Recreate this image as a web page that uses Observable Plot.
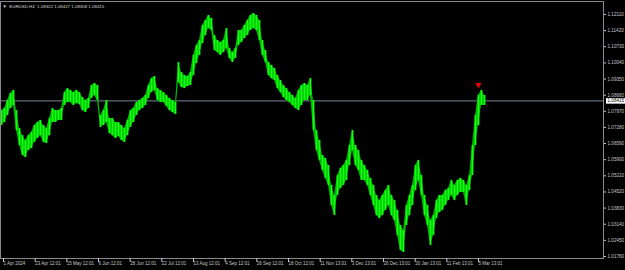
<!DOCTYPE html>
<html>
<head>
<meta charset="utf-8">
<script src="https://cdn.jsdelivr.net/npm/d3@7"></script>
<script src="https://cdn.jsdelivr.net/npm/@observablehq/plot@0.6"></script>
<style>
  html, body { margin: 0; padding: 0; background: #000; overflow: hidden; }
  #chart svg { display: block; }
</style>
</head>
<body>
<div id="chart"></div>
<script>
// ---- data (EURUSD, H4; sampled columns of the price band) ----
const symbolName = "EURUSD,H4";
const lastBar = { open: 1.08322, high: 1.08427, low: 1.08308, close: 1.08415 };

const highs = [
  1.0800,1.0809,1.0843,1.0873,1.0886,1.0800,1.0723,1.0693,1.0672,1.0693,
  1.0706,1.0736,1.0749,1.0758,1.0736,1.0723,1.0766,1.0809,1.0800,1.0800,
  1.0809,1.0877,1.0894,1.0886,1.0877,1.0886,1.0877,1.0856,1.0843,1.0852,
  1.0907,1.0916,1.0907,1.0779,1.0800,1.0843,1.0766,1.0766,1.0749,1.0749,
  1.0736,1.0723,1.0758,1.0800,1.0809,1.0835,1.0843,1.0852,1.0865,1.0907,
  1.0937,1.0946,1.0894,1.0886,1.0877,1.0865,1.0852,1.0843,1.0835,1.1006,
  1.0963,1.0950,1.0946,1.0963,1.1036,1.1078,1.1100,1.1164,1.1185,1.1207,
  1.1194,1.1121,1.1100,1.1091,1.1100,1.1151,1.1066,1.1048,1.1066,1.1143,
  1.1143,1.1164,1.1185,1.1207,1.1215,1.1207,1.1185,1.1100,1.1057,1.1006,
  1.0993,1.0980,1.0950,1.0929,1.0907,1.0894,1.0877,1.0865,1.0852,1.0886,
  1.0907,1.0916,1.0907,1.0937,1.0843,1.0715,1.0672,1.0608,1.0595,1.0565,
  1.0480,1.0437,1.0522,1.0552,1.0565,1.0587,1.0651,1.0715,1.0651,1.0629,
  1.0587,1.0565,1.0544,1.0510,1.0480,1.0437,1.0415,1.0437,1.0458,1.0480,
  1.0437,1.0415,1.0373,1.0309,1.0287,1.0394,1.0437,1.0480,1.0565,1.0587,
  1.0522,1.0437,1.0394,1.0330,1.0351,1.0415,1.0437,1.0437,1.0458,1.0467,
  1.0501,1.0480,1.0501,1.0510,1.0501,1.0480,1.0522,1.0651,1.0779,1.0865,
  1.0886,1.0865
];
const lows = [
  1.0736,1.0749,1.0779,1.0809,1.0822,1.0715,1.0651,1.0608,1.0599,1.0629,
  1.0638,1.0664,1.0681,1.0693,1.0664,1.0659,1.0693,1.0749,1.0749,1.0758,
  1.0758,1.0822,1.0835,1.0835,1.0822,1.0830,1.0826,1.0800,1.0792,1.0809,
  1.0852,1.0865,1.0843,1.0728,1.0736,1.0749,1.0702,1.0693,1.0681,1.0689,
  1.0672,1.0664,1.0693,1.0728,1.0749,1.0779,1.0800,1.0809,1.0822,1.0852,
  1.0877,1.0886,1.0843,1.0835,1.0835,1.0818,1.0800,1.0792,1.0783,1.0920,
  1.0899,1.0894,1.0903,1.0907,1.0950,1.1001,1.1036,1.1087,1.1121,1.1151,
  1.1143,1.1057,1.1048,1.1036,1.1048,1.1066,1.1023,1.1006,1.1023,1.1078,
  1.1091,1.1108,1.1121,1.1143,1.1151,1.1143,1.1100,1.1036,1.1006,1.0950,
  1.0937,1.0929,1.0894,1.0877,1.0856,1.0843,1.0835,1.0822,1.0809,1.0800,
  1.0822,1.0843,1.0843,1.0865,1.0715,1.0629,1.0587,1.0544,1.0510,1.0480,
  1.0394,1.0351,1.0437,1.0467,1.0480,1.0501,1.0565,1.0629,1.0565,1.0544,
  1.0501,1.0501,1.0480,1.0437,1.0394,1.0351,1.0338,1.0351,1.0373,1.0394,
  1.0351,1.0330,1.0266,1.0202,1.0193,1.0309,1.0351,1.0394,1.0458,1.0501,
  1.0437,1.0351,1.0309,1.0223,1.0266,1.0338,1.0364,1.0373,1.0394,1.0415,
  1.0437,1.0415,1.0437,1.0450,1.0450,1.0394,1.0458,1.0522,1.0651,1.0736,
  1.0822,1.0822
];

const priceTicks = [1.12110,1.11420,1.10730,1.10040,1.09350,1.08660,1.07970,1.07280,
                    1.06590,1.05900,1.05210,1.04520,1.03830,1.03140,1.02450,1.01760];
const timeLabels = ["1 Apr 2024","23 Apr 12:01","15 May 12:01","6 Jun 12:01","28 Jun 12:01",
                    "22 Jul 12:01","13 Aug 12:01","4 Sep 12:01","26 Sep 12:01","18 Oct 12:01",
                    "11 Nov 13:01","3 Dec 13:01","26 Dec 13:01","20 Jan 13:01","11 Feb 13:01","5 Mar 13:01"];
const columnsPerLabel = 10.556;        // sampled columns between time labels
const sellSignal = { column: 159, price: 1.0910 };

// ---- build ----
const bars = highs.map((h, i) => ({ i, high: h, low: lows[i] }));
const tickPos = timeLabels.map((_, k) => k * columnsPerLabel);
const labelAt = new Map(tickPos.map((p, k) => [p, timeLabels[k]]));
const fmt5 = d => d.toFixed(5);
const axisColor = "#c8c8c8";
const font = "'Liberation Sans', Arial, sans-serif";
const titleText = `\u25BC  ${symbolName}  ${fmt5(lastBar.open)} ${fmt5(lastBar.high)} ${fmt5(lastBar.low)} ${fmt5(lastBar.close)}`;

const chart = Plot.plot({
  width: 625,
  height: 270,
  marginLeft: 0,
  marginRight: 22,
  marginTop: 1,
  marginBottom: 12,
  style: { background: "#000", fontFamily: font },
  x: { domain: [-1 / 3, 200.67], axis: null },
  y: { domain: [1.01674, 1.12666], axis: null },
  marks: [
    Plot.ruleY([lastBar.close], { stroke: "#77889a", strokeWidth: 1 }),
    Plot.areaY(bars, { x: "i", y1: "low", y2: "high", fill: "#00b400" }),
    Plot.ruleX(bars, { x: "i", y1: "low", y2: "high", stroke: "#10ff10", strokeWidth: 1.8 }),
    Plot.ruleX([sellSignal], { x: "column", y1: "price", y2: "price", dy: -3, stroke: "#e00000" }),
    Plot.dot([sellSignal], { x: "column", y: "price", symbol: "triangle", rotate: 180, r: 2.3, fill: "#e40000", stroke: "none" }),
    Plot.frame({ stroke: "#8a8a8a" }),
    Plot.axisY(priceTicks, {
      anchor: "right", tickSize: 2, tickPadding: 2, tickFormat: fmt5,
      stroke: axisColor, fill: axisColor, fontSize: 4.6
    }),
    Plot.axisX(tickPos, {
      anchor: "bottom", tickSize: 4, tickPadding: -1, tickFormat: d => labelAt.get(d),
      textAnchor: "start", dx: 2, stroke: axisColor, fill: axisColor, fontSize: 4.5
    }),
    Plot.text([titleText], {
      text: d => d, frameAnchor: "top-left", dx: 2, dy: 3, textAnchor: "start",
      fill: "#d8d8d8", fontSize: 4.4
    }),
    Plot.text([lastBar.close], {
      y: d => d, text: fmt5, frameAnchor: "right", textAnchor: "start", dx: 4,
      fill: "#000", fontSize: 4.6
    })
  ]
});
document.getElementById("chart").appendChild(chart);

// white box behind the current-price label
for (const t of Array.from(chart.querySelectorAll("text"))) {
  if (t.textContent === fmt5(lastBar.close)) {
    const b = t.getBBox();
    const r = document.createElementNS("http://www.w3.org/2000/svg", "rect");
    r.setAttribute("x", b.x - 1.5);
    r.setAttribute("y", b.y - 0.3);
    r.setAttribute("width", b.width + 3);
    r.setAttribute("height", b.height + 0.6);
    r.setAttribute("fill", "#ffffff");
    r.setAttribute("stroke", "none");
    if (t.getAttribute("transform")) r.setAttribute("transform", t.getAttribute("transform"));
    t.parentNode.insertBefore(r, t);
  }
}
</script>
</body>
</html>
